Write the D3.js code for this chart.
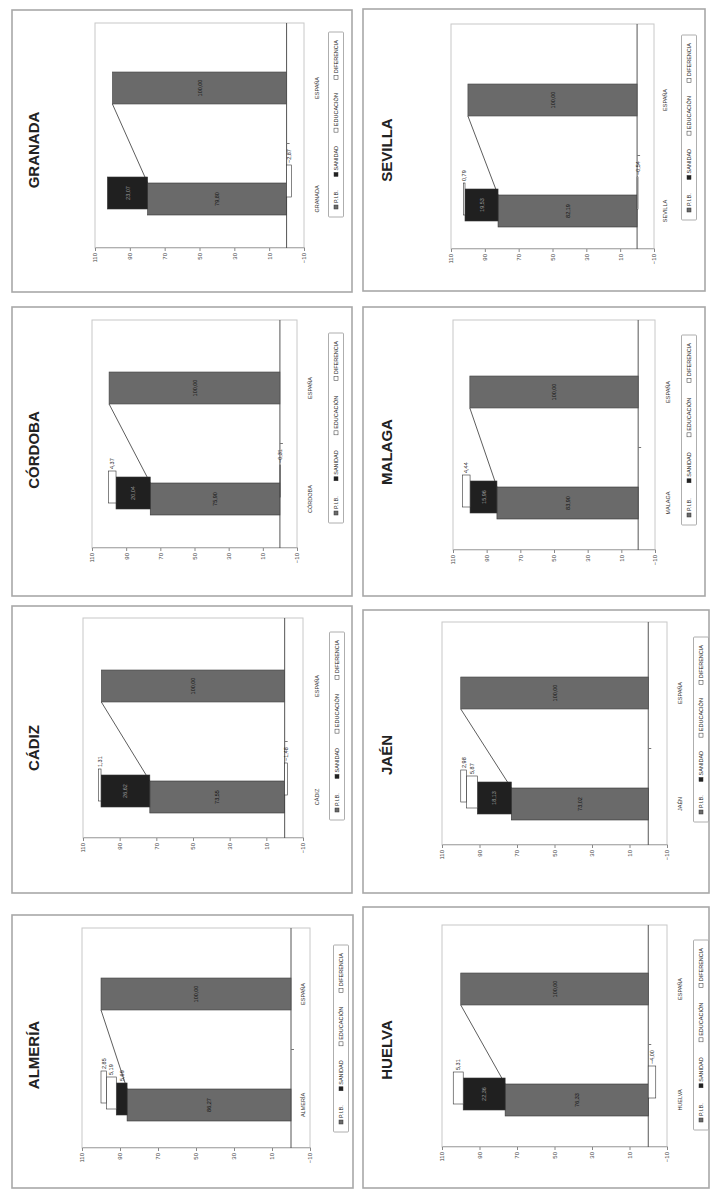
<!DOCTYPE html>
<html><head><meta charset="utf-8">
<script src="https://cdn.jsdelivr.net/npm/d3@7"></script>
<style>body{margin:0;background:#fff}svg{display:block}</style>
</head><body>
<svg id="c" width="712" height="1192"></svg>
<script>
// ---------- DATA ----------
const provinces = ["GRANADA","SEVILLA","CÓRDOBA","MALAGA","CÁDIZ","JAÉN","ALMERÍA","HUELVA"];
const seriesNames = ["P.I.B.","SANIDAD","EDUCACIÓN","DIFERENCIA"];
const pib        = [79.80, 82.19, 75.90, 83.90, 73.55, 73.02, 86.27, 76.33];
const sanidad    = [23.07, 19.53, 20.04, 15.96, 26.62, 18.13,  5.69, 22.36];
const educacion  = [null,   0.79,  4.37,  4.44,  1.31,  5.87,  5.19,  5.31];
const diferencia = [-2.87, -0.54, -0.31, null,  -1.48,  2.98,  2.85, -4.00];
const compLabel = "ESPAÑA";
const espana = 100.00;
const tickValues = [-10, 10, 30, 50, 70, 90, 110];

// ---------- LAYOUT (image coordinates) ----------
const layout = [
 {ox:12, oy:10,  ow:340, oh:282, v110:95,  vm10:304, ftop:23,  fbot:248,  provC:199,  catX:317, titleX:33,  titleY:150,  legX:336, legTop:32,  legBot:217},
 {ox:363,oy:9,   ow:342, oh:282, v110:451, vm10:654, ftop:24,  fbot:249,  provC:211,  catX:665, titleX:386, titleY:150,  legX:689, legTop:35,  legBot:220},
 {ox:12, oy:307, ow:340, oh:289, v110:92,  vm10:297, ftop:320, fbot:548,  provC:499,  catX:310, titleX:33,  titleY:450,  legX:336, legTop:333, legBot:523},
 {ox:363,oy:307, ow:342, oh:289, v110:453, vm10:655, ftop:320, fbot:550,  provC:503,  catX:668, titleX:386, titleY:452,  legX:689, legTop:335, legBot:525},
 {ox:12, oy:606, ow:340, oh:287, v110:83,  vm10:303, ftop:618, fbot:838,  provC:797,  catX:317, titleX:33,  titleY:748,  legX:337, legTop:632, legBot:820},
 {ox:363,oy:610, ow:346, oh:283, v110:442, vm10:667, ftop:622, fbot:845,  provC:804,  catX:680, titleX:386, titleY:755,  legX:701, legTop:637, legBot:822},
 {ox:12, oy:915, ow:341, oh:273, v110:82,  vm10:310, ftop:928, fbot:1148, provC:1105, catX:303, titleX:33,  titleY:1055, legX:341, legTop:945, legBot:1132},
 {ox:363,oy:907, ow:346, oh:281, v110:442, vm10:667, ftop:925, fbot:1147, provC:1100, catX:680, titleX:386, titleY:1050, legX:701, legTop:940, legBot:1130}
];
const BW = 32, GAP = 111, OFF = [0, 6, 12, 18];
const fills = ["#6a6a6a", "#202020", "#ffffff", "#ffffff"];
const FONT = "Liberation Sans, Arial, sans-serif";

const svg = d3.select("#c");
svg.append("rect").attr("width",712).attr("height",1192).attr("fill","#fff");
const root = svg.append("g").attr("transform","translate(0,1192) rotate(-90)");
const LX = iy => 1192 - iy;           // image y -> local x
const fmt = v => d3.format(".2f")(v).replace(".", ",");

provinces.forEach((p, i) => {
  const L = layout[i];
  const g = root.append("g").attr("font-family", FONT);

  // outer frame
  g.append("rect").attr("x", LX(L.oy + L.oh)).attr("y", L.ox)
    .attr("width", L.oh).attr("height", L.ow)
    .attr("fill", "#fff").attr("stroke", "#a8a8a8").attr("stroke-width", 1.6);

  // title
  g.append("text").attr("x", LX(L.titleY)).attr("y", L.titleX)
    .attr("text-anchor", "middle").attr("dominant-baseline", "central")
    .attr("font-weight", "bold").attr("font-size", 15).attr("fill", "#222").text(p);

  const y = d3.scaleLinear().domain([-10, 110]).range([L.vm10, L.v110]);
  const x = d3.scalePoint().domain([p, compLabel]).range([LX(L.provC), LX(L.provC) + GAP]);

  // plot frame
  g.append("rect").attr("x", LX(L.fbot)).attr("y", y(110))
    .attr("width", L.fbot - L.ftop).attr("height", y(-10) - y(110))
    .attr("fill", "none").attr("stroke", "#c8c8c8").attr("stroke-width", 1);

  // value axis
  const ax = g.append("g").attr("transform", `translate(${LX(L.fbot)},0)`)
    .call(d3.axisLeft(y).tickValues(tickValues).tickSize(3).tickPadding(2).tickFormat(d3.format("d")));
  ax.select(".domain").attr("stroke", "#b0b0b0");
  ax.selectAll(".tick line").attr("stroke", "#888");
  ax.selectAll(".tick text").attr("font-size", 6).attr("fill", "#444").attr("font-family", FONT);

  // zero line + category tick
  g.append("line").attr("x1", LX(L.fbot)).attr("x2", LX(L.ftop))
    .attr("y1", y(0)).attr("y2", y(0)).attr("stroke", "#555").attr("stroke-width", 1);
  const mid = (x(p) + x(compLabel)) / 2;
  g.append("line").attr("x1", mid).attr("x2", mid).attr("y1", y(0)).attr("y2", y(0) + 3)
    .attr("stroke", "#777");

  // stacking (positives up from 0, negatives down from 0)
  const vals = [pib[i], sanidad[i], educacion[i], diferencia[i]];
  let pos = 0, neg = 0;
  const segs = [];
  vals.forEach((v, k) => {
    if (v == null) return;
    let a, b;
    if (v >= 0) { a = pos; b = pos + v; pos = b; } else { a = neg; b = neg + v; neg = b; }
    segs.push({k, v, a, b});
  });

  // series line
  g.append("line")
    .attr("x1", x(p) + BW / 2).attr("y1", y(pib[i]))
    .attr("x2", x(compLabel) - BW / 2).attr("y2", y(espana))
    .attr("stroke", "#333").attr("stroke-width", 0.8);

  // España bar
  g.append("rect").attr("x", x(compLabel) - BW / 2).attr("width", BW)
    .attr("y", y(espana)).attr("height", y(0) - y(espana))
    .attr("fill", fills[0]).attr("stroke", "#444").attr("stroke-width", 0.6);
  g.append("text").attr("x", x(compLabel)).attr("y", y(espana / 2))
    .attr("text-anchor", "middle").attr("dominant-baseline", "central")
    .attr("font-size", 5.5).attr("fill", "#111").text(fmt(espana));

  // province segments
  segs.forEach(s => {
    const x0 = x(p) - BW / 2 + OFF[s.k];
    const top = y(Math.max(s.a, s.b)), h = Math.abs(y(s.a) - y(s.b));
    g.append("rect").attr("x", x0).attr("width", BW).attr("y", top).attr("height", Math.max(h, 0.5))
      .attr("fill", fills[s.k]).attr("stroke", "#333").attr("stroke-width", 0.6);
  });
  segs.forEach(s => {
    const x0 = x(p) - BW / 2 + OFF[s.k];
    const h = Math.abs(y(s.a) - y(s.b));
    const ym = y((s.a + s.b) / 2);
    const inside = s.k === 0 || (s.k === 1 && h >= 18);
    const t = g.append("text").attr("font-size", 5.5).attr("dominant-baseline", "central").text(fmt(s.v));
    if (inside) {
      t.attr("x", x0 + BW / 2).attr("y", ym).attr("text-anchor", "middle")
       .attr("fill", s.k === 0 ? "#111" : "#9a9a9a");
    } else {
      t.attr("x", x0 + BW + 2).attr("y", ym).attr("text-anchor", "start").attr("fill", "#222");
    }
  });

  // category labels
  [p, compLabel].forEach(c => {
    g.append("text").attr("x", x(c)).attr("y", L.catX)
      .attr("text-anchor", "middle").attr("dominant-baseline", "central")
      .attr("font-size", 5.5).attr("fill", "#333").text(c);
  });

  // legend (items spread across the box)
  const lx0 = LX(L.legBot), lx1 = LX(L.legTop);
  g.append("rect").attr("x", lx0).attr("y", L.legX - 7.5).attr("width", lx1 - lx0).attr("height", 15)
    .attr("fill", "#fff").attr("stroke", "#999").attr("stroke-width", 0.8).attr("rx", 1);
  const lg = g.append("g");
  const items = seriesNames.map((n, k) => {
    const it = lg.append("g");
    it.append("rect").attr("x", 0).attr("y", L.legX - 2).attr("width", 4).attr("height", 4)
      .attr("fill", fills[k]).attr("stroke", "#333").attr("stroke-width", 0.5);
    const t = it.append("text").attr("x", 6).attr("y", L.legX).attr("dominant-baseline", "central")
      .attr("font-size", 5.5).attr("fill", "#222").text(n);
    return {it, w: 6 + t.node().getComputedTextLength()};
  });
  const pad = 8;
  const total = d3.sum(items, d => d.w);
  const gap = ((lx1 - lx0) - 2 * pad - total) / (items.length - 1);
  let cx = lx0 + pad;
  items.forEach(d => { d.it.attr("transform", `translate(${cx},0)`); cx += d.w + gap; });
});
</script>
</body></html>
